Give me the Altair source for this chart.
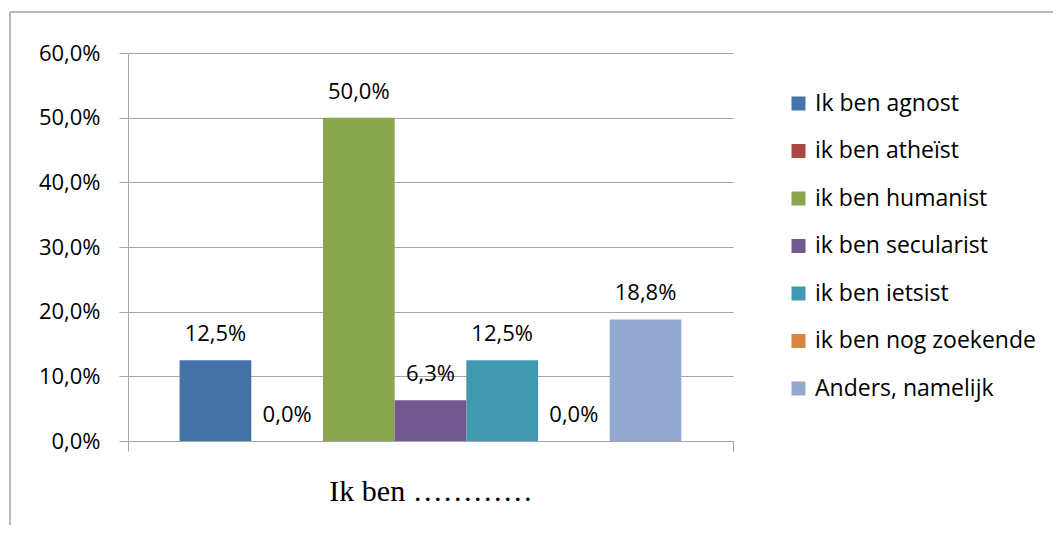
import altair as alt
import pandas as pd

categories = ["Ik ben …………"]
series = [
    "Ik ben agnost",
    "ik ben atheïst",
    "ik ben humanist",
    "ik ben secularist",
    "ik ben ietsist",
    "ik ben nog zoekende",
    "Anders, namelijk",
]
values = [12.5, 0.0, 50.0, 6.3, 12.5, 0.0, 18.8]
colors = ["#4572A7", "#AA4643", "#89A54E", "#71588F", "#4198AF", "#DB843D", "#93A9CF"]
y_ticks = [0, 10, 20, 30, 40, 50, 60]

GRAY = "#a6a6a6"
FONT = "Open Sans"

df = pd.DataFrame({
    "cat": categories * len(series),
    "series": series,
    "value": values,
})

x = alt.X(
    "cat:N",
    title=None,
    scale=alt.Scale(paddingInner=0, paddingOuter=0),
    axis=alt.Axis(
        tickBand="extent",
        labelFont="Liberation Serif",
        labelFontSize=30,
        labelColor="black",
        labelPadding=25,
        labelAngle=0,
        labelLimit=500,
        tickSize=10,
        tickColor=GRAY,
        domainColor=GRAY,
        grid=False,
    ),
)
xo = alt.XOffset(
    "series:N",
    sort=series,
    scale=alt.Scale(domain=series, paddingInner=0, paddingOuter=0.72),
)
y = alt.Y(
    "value:Q",
    scale=alt.Scale(domain=[0, 60], nice=False),
    axis=alt.Axis(
        values=y_ticks,
        title=None,
        labelExpr="replace(format(datum.value, '.1f'), '.', ',') + '%'",
        labelFont=FONT,
        labelFontSize=22,
        labelColor="black",
        labelPadding=19,
        tickSize=9,
        tickColor=GRAY,
        domainColor=GRAY,
        grid=True,
        gridColor=GRAY,
    ),
)
color = alt.Color(
    "series:N",
    sort=series,
    scale=alt.Scale(domain=series, range=colors),
    legend=alt.Legend(
        orient="none",
        legendX=659,
        legendY=39,
        title=None,
        symbolType="square",
        symbolSize=196,
        symbolStrokeWidth=0,
        labelFont=FONT,
        labelFontSize=23,
        labelColor="black",
        labelOffset=5,
        labelLimit=300,
        rowPadding=23.5,
        padding=0,
    ),
)

base = alt.Chart(df)
bars = base.mark_bar().encode(x=x, xOffset=xo, y=y, color=color)
labels = base.transform_calculate(
    lbl="replace(format(datum.value, '.1f'), '.', ',') + '%'"
).mark_text(
    dy=-19, baseline="alphabetic", font=FONT, fontSize=22, color="black"
).encode(x=x, xOffset=xo, y=y, text="lbl:N")

frame_df = pd.DataFrame({"k": [0]})
left_border = alt.Chart(frame_df).mark_rule(color="#a0a0a0", strokeWidth=1.5).encode(
    x=alt.value(-118), y=alt.value(-41), y2=alt.value(480)
)
top_border = alt.Chart(frame_df).mark_rule(color="#a0a0a0", strokeWidth=1.5).encode(
    x=alt.value(-118), x2=alt.value(940), y=alt.value(-41)
)

chart = alt.layer(bars, labels, left_border, top_border).properties(
    width=605,
    height=388,
    autosize=alt.AutoSizeParams(type="none"),
    padding={"left": 120, "top": 45, "right": 320, "bottom": 84},
).configure(font=FONT).configure_view(strokeOpacity=0)

chart.save("out.html", embed_options={"renderer": "svg", "actions": False})
